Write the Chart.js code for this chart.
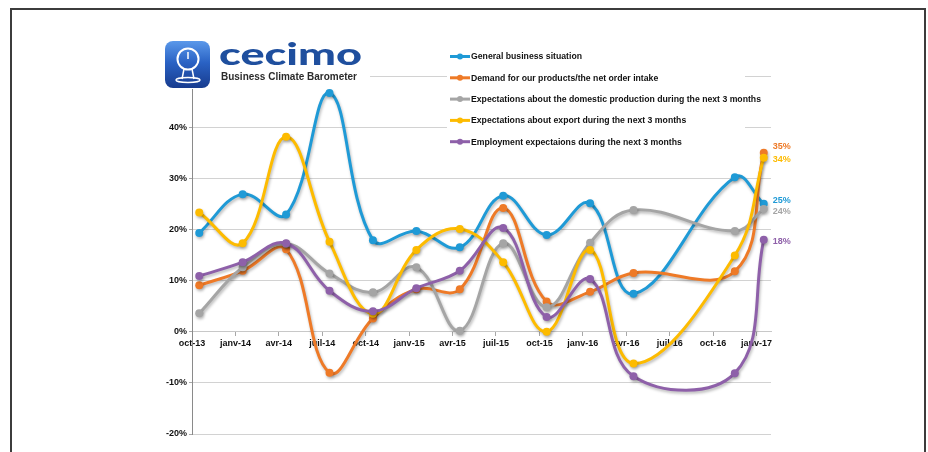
<!DOCTYPE html>
<html>
<head>
<meta charset="utf-8">
<script src="https://cdn.jsdelivr.net/npm/chart.js@4.4.1/dist/chart.umd.min.js"></script>
<style>
  html, body { margin: 0; padding: 0; background: #fff; }
  #wrap { position: relative; width: 928px; height: 452px; overflow: hidden; }
  #frame { position: absolute; left: 10px; top: 8px; width: 912px; height: 470px;
           border: 2px solid #3c3c3c; border-bottom: none; pointer-events: none; }
  canvas { position: absolute; left: 0; top: 0; }
</style>
</head>
<body>
<div id="wrap">
  <canvas id="barometer" width="928" height="452"></canvas>
  <div id="frame"></div>
</div>
<script>
// ---------------------- Data ----------------------
const SURVEY_DATES = ['2013-10', '2014-01', '2014-04', '2014-07', '2014-10', '2015-01', '2015-04',
                      '2015-07', '2015-10', '2016-01', '2016-04', '2016-11', '2017-01'];

const GENERAL    = [19.3, 26.9, 22.9, 46.7, 17.9, 19.7, 16.5, 26.6, 18.9, 25.1, 7.4, 30.2, 25];
const DEMAND     = [9.1, 11.9, 16.1, -8.0, 2.6, 8.3, 8.3, 24.2, 5.9, 7.8, 11.5, 11.8, 35];
const DOMESTIC   = [3.6, 12.6, 17.2, 11.4, 7.7, 12.6, 0.2, 17.3, 4.8, 17.4, 23.8, 19.7, 24];
const EXPORT     = [23.3, 17.3, 38.1, 17.6, 3.5, 16.0, 20.1, 13.6, 0.0, 16.0, -6.2, 14.9, 34];
const EMPLOYMENT = [10.9, 13.6, 17.3, 8.0, 4.0, 8.5, 11.9, 20.3, 2.9, 10.3, -8.7, -8.1, 18];

const SERIES_NAMES = [
  'General business situation',
  'Demand for our products/the net order intake',
  'Expectations about the domestic production during the next 3 months',
  'Expectations about export during the next 3 months',
  'Employment expectaions during the next 3 months',
];

const TICK_LABELS = ['oct-13', 'janv-14', 'avr-14', 'juil-14', 'oct-14', 'janv-15', 'avr-15',
                     'juil-15', 'oct-15', 'janv-16', 'avr-16', 'juil-16', 'oct-16', 'janv-17'];
const Y_TICKS = [-20, -10, 0, 10, 20, 30, 40, 50];

// ---------------------- Styles ----------------------
const COLORS = ['#1f9ad6', '#ee7a27', '#a5a5a5', '#fdbb00', '#8e60a9'];
const END_LABEL_SHIFT = [-3.5, -6, 2.5, 1.5, 1.5];  // px, keeps the last-value labels apart
const SERIES = [GENERAL, DEMAND, DOMESTIC, EXPORT, EMPLOYMENT];

// months counted from oct-13, points sit mid-month
function monthsFromStart(ym) {
  const [y, m] = ym.split('-').map(Number);
  return (y - 2013) * 12 + (m - 10);
}

// ---------------------- Plugins ----------------------
const seriesShadow = {
  id: 'seriesShadow',
  beforeDatasetsDraw(chart) {
    const ctx = chart.ctx;
    ctx.save();
    ctx.shadowColor = 'rgba(0,0,0,0.28)';
    ctx.shadowBlur = 3;
    ctx.shadowOffsetX = 1;
    ctx.shadowOffsetY = 2;
  },
  afterDatasetsDraw(chart) {
    chart.ctx.restore();
  },
};

function fitText(ctx, text, x, y, width) {
  const w = ctx.measureText(text).width;
  ctx.save();
  ctx.translate(x, y);
  ctx.scale(width / w, 1);
  ctx.fillText(text, 0, 0);
  ctx.restore();
}

const overlay = {
  id: 'overlay',
  afterDraw(chart) {
    const ctx = chart.ctx;
    ctx.save();

    // last-value labels
    ctx.font = 'bold 9px "Liberation Sans", Arial, sans-serif';
    ctx.textBaseline = 'middle';
    ctx.textAlign = 'left';
    SERIES.forEach((vals, i) => {
      const pts = chart.getDatasetMeta(i).data;
      const p = pts[pts.length - 1];
      ctx.fillStyle = COLORS[i];
      ctx.fillText(Math.round(vals[vals.length - 1]) + '%', p.x + 9, p.y + END_LABEL_SHIFT[i]);
    });

    // legend block
    ctx.fillStyle = '#fff';
    ctx.fillRect(447, 44, 298, 108);
    ctx.font = 'bold 9px "Liberation Sans", Arial, sans-serif';
    SERIES_NAMES.forEach((name, i) => {
      const y = 56.5 + i * 21.3;
      ctx.strokeStyle = COLORS[i];
      ctx.lineWidth = 3;
      ctx.beginPath();
      ctx.moveTo(450, y);
      ctx.lineTo(470, y);
      ctx.stroke();
      ctx.fillStyle = COLORS[i];
      ctx.beginPath();
      ctx.arc(460, y, 3, 0, Math.PI * 2);
      ctx.fill();
      ctx.fillStyle = '#111';
      fitText(ctx, name, 471, y + 0.5, ctx.measureText(name).width * 0.965);
    });

    // cecimo logo
    ctx.fillStyle = '#fff';
    ctx.fillRect(155, 28, 215, 61);
    const g = ctx.createLinearGradient(0, 41, 0, 89);
    g.addColorStop(0, '#5a98ea');
    g.addColorStop(0.45, '#2a62c4');
    g.addColorStop(1, '#173a8c');
    ctx.fillStyle = g;
    ctx.beginPath();
    ctx.roundRect(165, 41, 45, 47, 8);
    ctx.fill();
    ctx.strokeStyle = '#fff';
    ctx.lineWidth = 2;
    ctx.beginPath();
    ctx.arc(188, 59, 10.5, 0, Math.PI * 2);
    ctx.stroke();
    ctx.lineWidth = 1.5;
    ctx.beginPath();
    ctx.moveTo(188, 59);
    ctx.lineTo(188, 52);
    ctx.moveTo(184, 69);
    ctx.lineTo(182, 79);
    ctx.moveTo(192, 69);
    ctx.lineTo(194, 79);
    ctx.stroke();
    ctx.beginPath();
    ctx.ellipse(188, 80, 12, 2.5, 0, 0, Math.PI * 2);
    ctx.stroke();

    ctx.textBaseline = 'alphabetic';
    ctx.fillStyle = '#1f4f9e';
    ctx.font = '900 31px Lato, "Liberation Sans", sans-serif';
    fitText(ctx, 'cecimo', 219, 65, 143);
    ctx.fillStyle = '#2b2b2b';
    ctx.font = 'bold 10px "Liberation Sans", Arial, sans-serif';
    fitText(ctx, 'Business Climate Barometer', 221, 80, 136);

    ctx.restore();
  },
};

// ---------------------- Chart ----------------------
const tickFont = { family: '"Liberation Sans", Arial, sans-serif', size: 9, weight: 'bold' };

new Chart(document.getElementById('barometer'), {
  type: 'line',
  data: {
    datasets: SERIES.map((vals, i) => ({
      label: SERIES_NAMES[i],
      data: vals.map((v, k) => ({ x: monthsFromStart(SURVEY_DATES[k]) + 0.5, y: v })),
      borderColor: COLORS[i],
      backgroundColor: COLORS[i],
      borderWidth: 3,
      pointRadius: 4,
      pointBorderWidth: 0,
      pointHoverRadius: 4,
      tension: 0.4,
      fill: false,
      order: SERIES.length - i,
    })),
  },
  options: {
    responsive: false,
    animation: false,
    devicePixelRatio: 1,
    layout: { padding: { left: 152, right: 157, top: 76, bottom: 18 } },
    plugins: { legend: { display: false }, tooltip: { enabled: false } },
    scales: {
      x: {
        type: 'linear',
        position: { y: 0 },
        min: 0,
        max: 40,
        afterBuildTicks: (s) => { s.ticks = TICK_LABELS.map((_, i) => ({ value: i * 3 })); },
        afterFit: (s) => { s.height = 0; },
        ticks: {
          autoSkip: false,
          maxRotation: 0,
          padding: 2,
          color: '#111',
          font: tickFont,
          callback: (v) => TICK_LABELS[v / 3],
        },
        grid: { drawOnChartArea: false, tickLength: 4, color: '#a8a8a8' },
        border: { color: '#c8c8c8' },
      },
      y: {
        min: -20,
        max: 50,
        afterBuildTicks: (s) => { s.ticks = Y_TICKS.map(v => ({ value: v })); },
        afterFit: (s) => { s.width = 40; },
        ticks: {
          padding: 2,
          color: '#111',
          font: tickFont,
          callback: (v) => v + '%',
        },
        grid: { color: '#d2d2d2', tickLength: 3, tickColor: '#a8a8a8' },
        border: { color: '#8a8a8a' },
      },
    },
  },
  plugins: [seriesShadow, overlay],
});
</script>
</body>
</html>
